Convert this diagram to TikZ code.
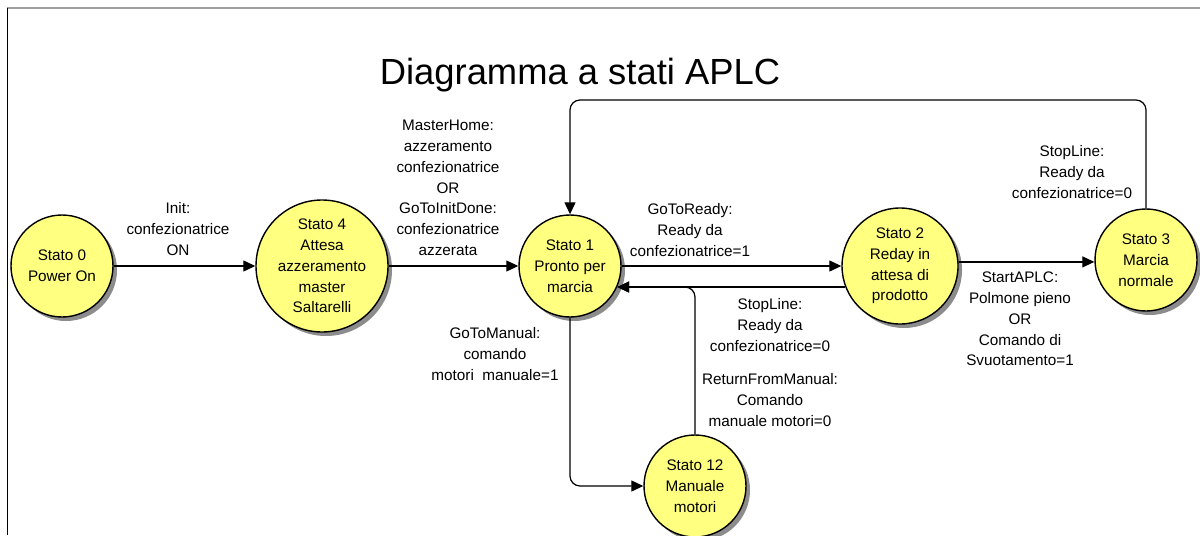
\documentclass[tikz,border=0pt]{standalone}
\usepackage{fontspec}
\setmainfont{Liberation Sans}
\usepackage{tikz}
\usetikzlibrary{arrows.meta, positioning, shadows}
\definecolor{statoyellow}{HTML}{FFFF80}
\definecolor{statoshadow}{HTML}{8C8C8C}
\definecolor{framegray}{HTML}{A0A0A0}

\begin{document}
\begin{tikzpicture}[
        font=\fontsize{8.7}{11.8}\selectfont,
        every node/.style={align=center},
        stato/.style={circle, draw=black, line width=0.8pt, fill=statoyellow,
                      inner sep=0pt, minimum size=2.04cm,
                      drop shadow={shadow xshift=0.08cm, shadow yshift=-0.08cm,
                                   fill=statoshadow, opacity=1}},
        cond/.style={inner sep=1pt},
        arr/.style={line width=0.7pt, -{Triangle[length=2.4mm, width=2.2mm]}},
        titolo/.style={font=\fontsize{20.7}{24}\selectfont}
    ]
        \useasboundingbox (0,0) rectangle (24,10.7);
        \draw[framegray, line width=0.8pt] (0.15,10.54) -- (24,10.54);
        \draw[line width=0.7pt] (0.15,10.54) -- (0.15,0);

        \node[titolo] (title) at (11.60,9.20) {Diagramma a stati APLC};

        \node[stato] (s0) at (1.24,5.38) {Stato 0\\Power On};
        \node[stato, minimum size=2.64cm] (s4) at (6.44,5.38) {Stato 4\\Attesa\\azzeramento\\master\\Saltarelli};
        \node[stato] (s1) at (11.40,5.38) {Stato 1\\Pronto per\\marcia};
        \node[stato, minimum size=2.32cm] (s2) at (18.00,5.38) {Stato 2\\Reday in\\attesa di\\prodotto};
        \node[stato] (s3) at (22.92,5.50) {Stato 3\\Marcia\\normale};
        \node[stato] (s12) at (13.90,0.98) {Stato 12\\Manuale\\motori};

        \coordinate (ritorno) at (0,8.70);

        \draw[arr] (s0) -- (s4);
        \draw[arr] (s4) -- (s1);
        \draw[arr] (s1) -- (s2);
        \draw[arr] (s2.201) -- (s2.201 -| s1.336);
        \draw[arr, rounded corners=0.2cm] (s12.north) |- (s1.336);
        \draw[arr, rounded corners=0.2cm] (s1.south) |- (s12.west);
        \draw[arr] (s2.4) -- (s2.4 -| s3.west);
        \draw[arr, rounded corners=0.2cm] (s3.north) -- (s3.north |- ritorno)
            -- (s1.north |- ritorno) -- (s1.north);

        \node[cond] (cInit) at (3.56,6.12) {Init:\\confezionatrice\\ON};
        \node[cond] (cHome) at (8.96,6.94) {MasterHome:\\azzeramento\\confezionatrice\\OR\\GoToInitDone:\\confezionatrice\\azzerata};
        \node[cond] (cReady) at (13.80,6.10) {GoToReady:\\Ready da\\confezionatrice=1};
        \node[cond] (cStop) at (15.40,4.20) {StopLine:\\Ready da\\confezionatrice=0};
        \node[cond] (cReturn) at (15.40,2.70) {ReturnFromManual:\\Comando\\manuale motori=0};
        \node[cond] (cManual) at (9.90,3.62) {GoToManual:\\comando\\motori\ \ manuale=1};
        \node[cond] (cStart) at (20.40,4.32) {StartAPLC:\\Polmone pieno\\OR\\Comando di\\Svuotamento=1};
        \node[cond] (cStopTop) at (21.44,7.26) {StopLine:\\Ready da\\confezionatrice=0};
    \end{tikzpicture}
\end{document}
